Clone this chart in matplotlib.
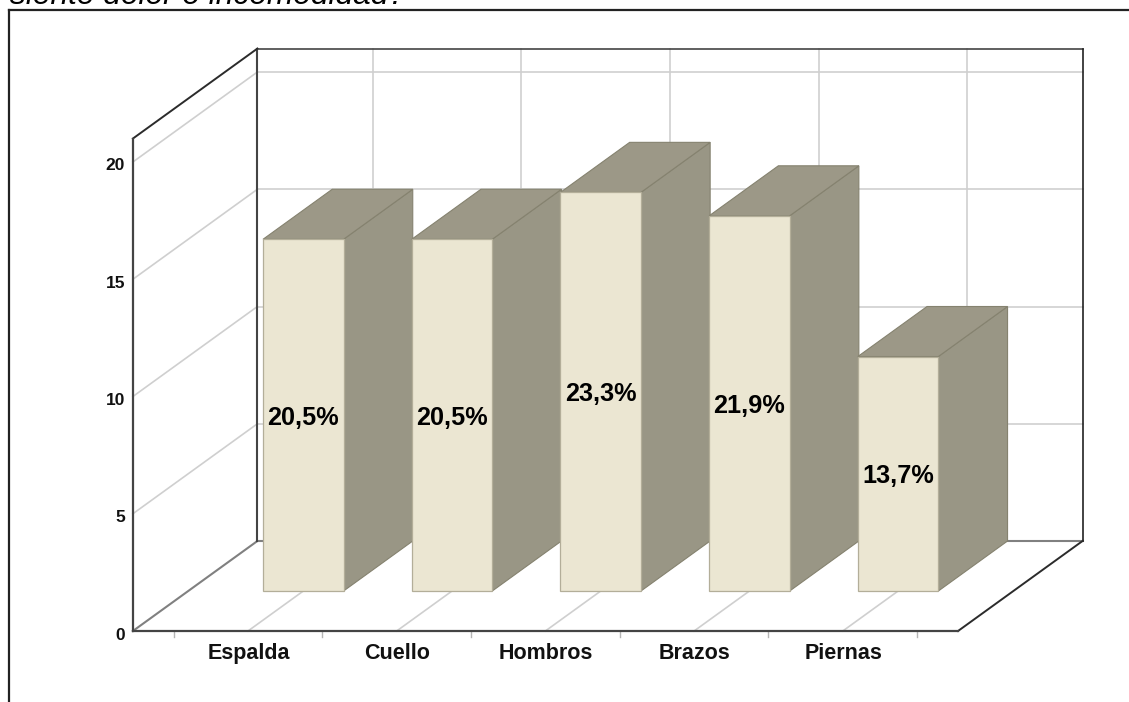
import matplotlib
matplotlib.use("Agg")
import matplotlib.pyplot as plt
from matplotlib.patches import Polygon

categorias = ["Espalda", "Cuello", "Hombros", "Brazos", "Piernas"]
frecuencias = [15, 15, 17, 16, 10]
porcentajes = ["20,5%", "20,5%", "23,3%", "21,9%", "13,7%"]
ticks_y = [0, 5, 10, 15, 20]

# escala en pixeles de la imagen original
px_x = 148.7
px_y = 23.45
y_max = 21
x_min, x_max = -0.774, 4.775
# profundidad del piso en unidades de datos
prof_x = 124.5 / px_x
prof_y = 90 / px_y
ancho = 80.5 / px_x
d_barra = 0.444

GRID = "#cfcfcf"
OSCURO = "#2b2b2b"


def p(x, y, d=0.0):
    return x + d * prof_x, y + d * prof_y


fig = plt.figure(figsize=(11.29, 7.02), dpi=100)
ax = fig.add_axes([0, 0, 1, 1])
ax.set_xlim((0 - 248) / px_x, (1129 - 248) / px_x)
ax.set_ylim((631 - 702) / px_y, 631 / px_y)
ax.axis("off")


def linea(a, b, color=GRID, lw=1.2, z=1):
    ax.plot([a[0], b[0]], [a[1], b[1]], color=color, lw=lw, zorder=z, solid_capstyle="projecting")


# marco de la imagen (solo arriba e izquierda)
fig.add_artist(plt.Line2D([9 / 1129, 9 / 1129], [0, 1 - 10 / 702], color="#222222", lw=1.6))
fig.add_artist(plt.Line2D([9 / 1129, 1], [1 - 10 / 702, 1 - 10 / 702], color="#222222", lw=1.6))

# rejilla de paredes
for v in ticks_y[1:]:
    linea(p(x_min, v), p(x_min, v, 1))
    linea(p(x_min, v, 1), p(x_max, v, 1))
for i in range(len(categorias)):
    linea(p(i, 0), p(i, 0, 1))
    linea(p(i, 0, 1), p(i, y_max, 1))
    linea(p(i - 0.5, 0), (i - 0.5, -6 / px_y), color="#b5b5b5", lw=1)
linea(p(4.5, 0), (4.5, -6 / px_y), color="#b5b5b5", lw=1)

# ejes y contorno
linea(p(x_min, 0), p(x_min, 0, 1), color="#808080", lw=1.5, z=2)
linea(p(x_min, 0, 1), p(x_max, 0, 1), color="#808080", lw=1.5, z=2)
linea(p(x_min, 0, 1), p(x_min, y_max, 1), color="#444444", lw=1.5, z=2)
linea(p(x_min, y_max, 1), p(x_max, y_max, 1), color="#444444", lw=1.2, z=2)
linea(p(x_max, 0, 1), p(x_max, y_max, 1), color="#222222", lw=1.2, z=2)
linea(p(x_min, y_max), p(x_min, y_max, 1), color=OSCURO, lw=1.4, z=2)
linea(p(x_max, 0), p(x_max, 0, 1), color=OSCURO, lw=1.4, z=2)
linea(p(x_min, 0), p(x_min, y_max), color="#444444", lw=1.6, z=2)
linea(p(x_min, 0), p(x_max, 0), color="#444444", lw=1.6, z=2)

# barras
for i, v in enumerate(frecuencias):
    x0 = i - ancho / 2
    x1 = i + ancho / 2
    frente = [p(x0, 0, d_barra), p(x1, 0, d_barra), p(x1, v, d_barra), p(x0, v, d_barra)]
    lado = [p(x1, 0, d_barra), p(x1, 0, 1), p(x1, v, 1), p(x1, v, d_barra)]
    tapa = [p(x0, v, d_barra), p(x1, v, d_barra), p(x1, v, 1), p(x0, v, 1)]
    z = 3 + i
    ax.add_patch(Polygon(lado, fc="#999685", ec="#85826f", lw=0.8, zorder=z))
    ax.add_patch(Polygon(tapa, fc="#9c9887", ec="#85826f", lw=0.8, zorder=z))
    ax.add_patch(Polygon(frente, fc="#ebe6d2", ec="#b3ae99", lw=0.9, zorder=z))
    cx, cy = p(i, v / 2, d_barra)
    ax.text(cx, cy - 9.5 / px_y, porcentajes[i], ha="center", va="baseline", family="Liberation Sans",
            fontweight="bold", fontsize=18.2, color="black", zorder=20)

for v in ticks_y:
    ax.text(x_min - 8 / px_x, v - 4 / px_y, str(v), ha="right", va="center", family="Liberation Sans",
            fontweight="bold", fontsize=12.5, color="#111111")
for i, c in enumerate(categorias):
    ax.text(i + 0.5 / px_x, -28 / px_y, c, ha="center", va="baseline", family="Liberation Sans",
            fontweight="bold", fontsize=15.5, color="#111111")

fig.text(10 / 1129, 1 - 4 / 702, "siente dolor o incomodidad?", family="Liberation Sans", style="italic",
         fontsize=22.8, color="black", va="baseline")

fig.savefig("out.png", dpi=100)
